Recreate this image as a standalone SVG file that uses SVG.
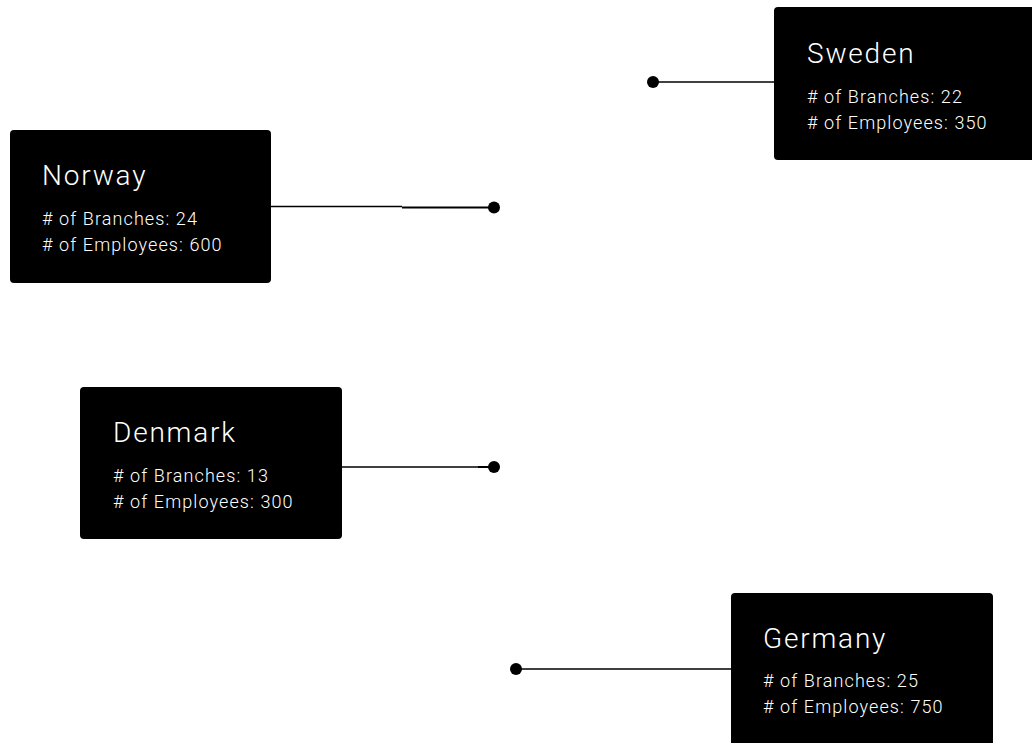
<svg xmlns="http://www.w3.org/2000/svg" width="1032" height="743" viewBox="0 0 1032 743">
<style>
.box{fill:#000}
.title{font-family:Roboto,"Liberation Sans",sans-serif;font-size:28px;font-weight:300;fill:#fff;letter-spacing:1.8px}
.body{font-family:Roboto,"Liberation Sans",sans-serif;font-size:18px;font-weight:300;fill:#fff;letter-spacing:1.1px}
.conn{stroke:#000;stroke-width:1.3;fill:none}
.conn2{stroke:#000;stroke-width:2;fill:none}
.dot{fill:#000}
</style>
<rect width="1032" height="743" fill="#fff"/>
<g id="connectors">
<line class="conn" x1="653" y1="82" x2="775" y2="82"/>
<circle class="dot" cx="653" cy="82" r="6"/>
<line class="conn" x1="271" y1="206.5" x2="402" y2="206.5"/>
<line class="conn2" x1="402" y1="207.5" x2="494" y2="207.5"/>
<circle class="dot" cx="494" cy="207.5" r="6"/>
<line class="conn" x1="341" y1="467" x2="478" y2="467"/>
<line class="conn2" x1="478" y1="467" x2="494" y2="467"/>
<circle class="dot" cx="494" cy="467" r="6"/>
<line class="conn" x1="516" y1="669" x2="732" y2="669"/>
<circle class="dot" cx="516" cy="669" r="6"/>
</g>
<g id="sweden">
<rect class="box" x="774" y="7" width="262" height="153" rx="4"/>
<text class="title" x="807" y="63">Sweden</text>
<text class="body" x="807" y="103"># of Branches: 22</text>
<text class="body" x="807" y="129"># of Employees: 350</text>
</g>
<g id="norway">
<rect class="box" x="10" y="130" width="261" height="153" rx="4"/>
<text class="title" x="42" y="184.5">Norway</text>
<text class="body" x="42" y="225"># of Branches: 24</text>
<text class="body" x="42" y="251"># of Employees: 600</text>
</g>
<g id="denmark">
<rect class="box" x="80" y="387" width="262" height="152" rx="4"/>
<text class="title" x="113" y="442">Denmark</text>
<text class="body" x="113" y="482"># of Branches: 13</text>
<text class="body" x="113" y="508"># of Employees: 300</text>
</g>
<g id="germany">
<rect class="box" x="731" y="593" width="262" height="155" rx="4"/>
<text class="title" x="763" y="648">Germany</text>
<text class="body" x="763" y="687"># of Branches: 25</text>
<text class="body" x="763" y="713"># of Employees: 750</text>
</g>
</svg>
